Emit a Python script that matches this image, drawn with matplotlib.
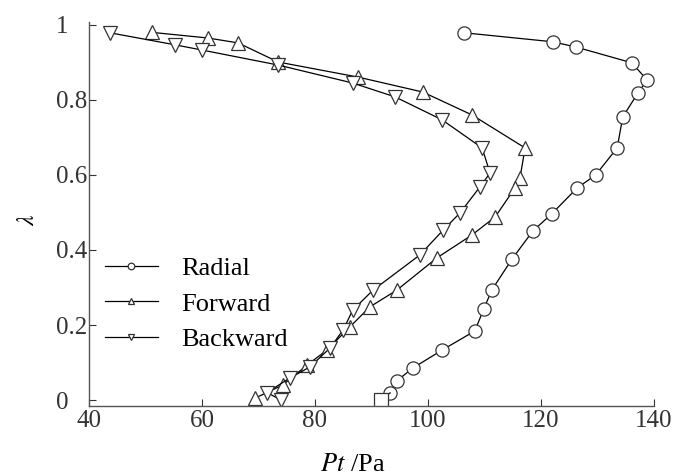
import numpy as np
import matplotlib
matplotlib.use("Agg")
from matplotlib import pyplot as plt

# data
radial_pt = [106.4, 122.1, 126.2, 136.1, 138.8, 137.2, 134.5, 133.5, 129.7, 126.4,
             121.9, 118.6, 114.9, 111.3, 109.9, 108.3, 102.5, 97.3, 94.5, 93.3, 91.7]
radial_lam = [0.979, 0.955, 0.941, 0.899, 0.853, 0.819, 0.755, 0.672, 0.600, 0.565,
              0.496, 0.451, 0.376, 0.293, 0.243, 0.184, 0.133, 0.085, 0.051, 0.019, 0.0]

forward_pt = [51.2, 61.1, 66.4, 73.5, 87.6, 99.1, 107.8, 117.2, 116.3, 115.4,
              111.9, 107.8, 101.6, 94.5, 89.7, 86.2, 82.1, 78.6, 74.3, 69.4]
forward_lam = [0.980, 0.965, 0.952, 0.901, 0.861, 0.821, 0.760, 0.672, 0.592, 0.565,
               0.488, 0.440, 0.379, 0.293, 0.248, 0.195, 0.133, 0.093, 0.040, 0.005]

backward_pt = [43.7, 55.2, 60.0, 73.5, 86.7, 94.2, 102.5, 109.6, 111.0, 109.2,
               105.7, 102.7, 98.6, 90.3, 86.7, 85.0, 82.7, 79.1, 75.6, 71.5, 74.0]
backward_lam = [0.979, 0.947, 0.933, 0.893, 0.845, 0.808, 0.747, 0.672, 0.605, 0.568,
                0.499, 0.453, 0.387, 0.293, 0.240, 0.187, 0.139, 0.088, 0.059, 0.020, 0.0]

xticks = [40, 60, 80, 100, 120, 140]
yticks = [0, 0.2, 0.4, 0.6, 0.8, 1]
ytick_labels = ['0', '0.2', '0.4', '0.6', '0.8', '1']

plt.rcParams['font.family'] = ['Liberation Serif', 'DejaVu Serif']
plt.rcParams['mathtext.fontset'] = 'stix'

fig = plt.figure(figsize=(6.79, 4.76), dpi=100)
a = fig.add_axes([0.131, 0.147, 0.832, 0.807])

mk = dict(color='black', lw=0.9, markersize=9.5, markerfacecolor='white',
          markeredgecolor='#333333', markeredgewidth=0.9)
a.plot(radial_pt[:-1], radial_lam[:-1], marker='o', label='Radial', **mk)
a.plot(radial_pt[-2:], radial_lam[-2:], marker='s', markevery=[1], **mk)
a.plot(forward_pt, forward_lam, marker='^', label='Forward', **mk)
a.plot(backward_pt, backward_lam, marker='v', label='Backward', **mk)

a.set_xlim(40, 140)
a.set_ylim(-0.016, 1.008)
a.set_xticks(xticks)
a.set_yticks(yticks)
a.set_yticklabels(ytick_labels, ha='left')
a.tick_params(direction='in', length=5, width=0.8, labelsize=18, colors='#333333')
a.tick_params(axis='x', pad=3)
a.tick_params(axis='y', pad=24)
for s in ['top', 'right']:
    a.spines[s].set_visible(False)
for s in ['left', 'bottom']:
    a.spines[s].set_color('#555555')
    a.spines[s].set_linewidth(1.0)

a.set_xlabel('$Pt$ /Pa', fontsize=19)
a.xaxis.set_label_coords(0.467, -0.125)
a.set_ylabel('$\\lambda$', fontsize=17)
a.yaxis.set_label_coords(-0.089, 0.484)

leg = a.legend(loc='upper left', bbox_to_anchor=(0.0, 0.43), frameon=False,
               fontsize=19, markerscale=0.5, handlelength=2.0, handletextpad=0.9,
               labelspacing=0.45, borderaxespad=0.2)

fig.savefig('out.png', dpi=100)
